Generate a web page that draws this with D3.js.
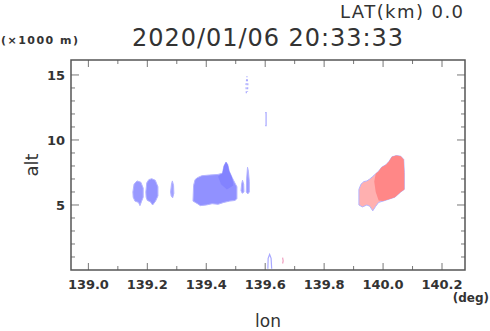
<!DOCTYPE html>
<html>
<head>
<meta charset="utf-8">
<script src="https://cdn.jsdelivr.net/npm/d3@7"></script>
<style>
  body { margin: 0; background: #fff; }
  svg text { font-family: "DejaVu Sans", sans-serif; fill: #333; }
</style>
</head>
<body>
<svg id="chart"></svg>
<script>
// axis settings
const lonDomain = [138.941, 140.278],
      altDomain = [0, 16.15]
const lonTicks = [139.0, 139.2, 139.4, 139.6, 139.8, 140.0, 140.2]
const lonMinor = d3.range(139.0, 140.25, 0.1)
const altTicks = [5, 10, 15]
const altMinor = d3.range(1, 16, 1)

// echo outlines [lon, alt(km)]
const blueCell1 = [[139.151,6.0],[139.155,6.6],[139.165,6.85],[139.178,6.75],[139.186,6.3],[139.186,5.6],[139.18,5.25],[139.175,4.95],[139.17,5.2],[139.158,5.3],[139.152,5.6]]
const blueCell2 = [[139.195,6.0],[139.198,6.7],[139.205,6.95],[139.215,7.02],[139.227,6.9],[139.236,6.4],[139.236,5.7],[139.228,5.3],[139.218,5.0],[139.21,5.25],[139.2,5.35],[139.196,5.6]]
const blueCell3 = [[139.279,6.0],[139.282,6.6],[139.285,6.85],[139.289,6.5],[139.29,5.9],[139.286,5.55],[139.281,5.7]]
const blueCell4 = [[139.355,5.3],[139.357,6.5],[139.362,6.95],[139.37,7.1],[139.385,7.25],[139.41,7.3],[139.44,7.35],[139.455,7.45],[139.46,8.0],[139.467,8.3],[139.473,8.1],[139.478,7.6],[139.488,7.1],[139.497,6.7],[139.504,6.4],[139.504,5.5],[139.498,5.35],[139.48,5.3],[139.46,5.2],[139.44,5.05],[139.42,5.1],[139.40,5.0],[139.38,4.95],[139.37,5.1]]
const blueCore4 = [[139.44,7.2],[139.455,7.45],[139.46,8.0],[139.467,8.3],[139.473,8.1],[139.478,7.6],[139.488,7.1],[139.492,6.5],[139.47,6.2],[139.45,6.6]]
const blueSpike1 = [[139.518,6.1],[139.52,6.6],[139.523,6.9],[139.527,6.6],[139.528,6.0],[139.522,5.9]]
const blueSpike2 = [[139.536,6.0],[139.537,7.0],[139.540,7.9],[139.543,7.6],[139.546,6.8],[139.546,6.0],[139.541,5.85]]
const redCell = [[139.918,5.0],[139.918,6.2],[139.925,6.6],[139.935,6.8],[139.945,6.85],[139.955,7.0],[139.965,7.2],[139.975,7.4],[139.985,7.6],[139.995,7.9],[140.01,8.1],[140.02,8.35],[140.03,8.7],[140.045,8.8],[140.06,8.75],[140.07,8.5],[140.072,7.5],[140.072,6.2],[140.06,6.0],[140.04,5.6],[140.02,5.45],[140.0,5.3],[139.985,5.2],[139.975,4.9],[139.965,4.55],[139.955,4.9],[139.945,5.0],[139.93,4.85]]
const redCore = [[139.975,7.4],[139.985,7.6],[139.995,7.9],[140.01,8.1],[140.02,8.35],[140.03,8.7],[140.045,8.8],[140.06,8.75],[140.07,8.5],[140.072,7.5],[140.072,6.2],[140.06,6.0],[140.04,5.6],[140.02,5.45],[140.0,5.3],[139.985,5.35],[139.975,6.0],[139.97,6.8]]

// faint scraps
const scrapTop = [[139.536,13.6],[139.535,14.2],[139.538,14.9],[139.541,14.3],[139.540,13.7]]
const scrapMid = [[139.600,12.1],[139.603,12.1],[139.603,11.1],[139.600,11.1]]
const scrapLow = [[139.609,0.1],[139.610,0.9],[139.615,1.2],[139.620,0.9],[139.622,0.1]]
const scrapDot = [[139.659,0.5],[139.661,0.7],[139.659,0.95]]

const cells = [
  {pts: blueCell1, fill: "#9999ff", edge: true},
  {pts: blueCell2, fill: "#9393ff", edge: true},
  {pts: blueCell3, fill: "#a0a0ff", edge: true},
  {pts: blueCell4, fill: "#9191ff", edge: true},
  {pts: blueCore4, fill: "#8383ff", edge: false},
  {pts: blueSpike1, fill: "#9797ff", edge: true},
  {pts: blueSpike2, fill: "#9797ff", edge: true},
  {pts: redCell, fill: "#ffb0b0", edge: true},
  {pts: redCore, fill: "#ff8787", edge: false}
]
const scraps = [scrapTop, scrapMid, scrapLow, scrapDot]

const width = 490, height = 331
const margin = {top: 60, right: 25, bottom: 61, left: 71}

const svg = d3.select("#chart").attr("width", width).attr("height", height)

const x = d3.scaleLinear().domain(lonDomain).range([margin.left, width - margin.right])
const y = d3.scaleLinear().domain(altDomain).range([height - margin.bottom, margin.top])

const line = d3.line().x(d => x(d[0])).y(d => y(d[1])).curve(d3.curveLinearClosed)
const open = d3.line().x(d => x(d[0])).y(d => y(d[1]))

svg.append("g").selectAll("path")
   .data(cells)
   .join("path")
   .attr("d", d => line(d.pts))
   .attr("fill", d => d.fill)
   .attr("stroke", d => d.edge ? "#b4b4ff" : "none")
   .attr("stroke-width", 1)

svg.append("g").selectAll("path")
   .data(scraps)
   .join("path")
   .attr("d", d => open(d))
   .attr("fill", "none")
   .attr("stroke", (d, i) => i == 3 ? "#f0a0c0" : "#a8a8ff")
   .attr("stroke-width", 1.2)
   .attr("stroke-dasharray", (d, i) => i == 0 ? "2,2" : null)

// ticks inside frame, all four sides
const tickCol = "#777"
const frame = svg.append("g")
const x0 = x.range()[0], x1 = x.range()[1], y0 = y.range()[0], y1 = y.range()[1]

frame.selectAll(".xt")
   .data(lonMinor.map(v => ({v: v, major: lonTicks.some(t => Math.abs(t - v) < 1e-6)})))
   .join(enter => {
     const g = enter.append("g")
     g.append("line").attr("x1", d => x(d.v)).attr("x2", d => x(d.v))
      .attr("y1", y0).attr("y2", d => y0 - (d.major ? 7 : 4))
     g.append("line").attr("x1", d => x(d.v)).attr("x2", d => x(d.v))
      .attr("y1", y1).attr("y2", d => y1 + (d.major ? 7 : 4))
     return g
   })
   .attr("stroke", tickCol)

frame.selectAll(".yt")
   .data(altMinor.map(v => ({v: v, major: altTicks.includes(v)})))
   .join(enter => {
     const g = enter.append("g")
     g.append("line").attr("y1", d => y(d.v)).attr("y2", d => y(d.v))
      .attr("x1", x0).attr("x2", d => x0 + (d.major ? 8 : 4))
     g.append("line").attr("y1", d => y(d.v)).attr("y2", d => y(d.v))
      .attr("x1", x1).attr("x2", d => x1 - (d.major ? 8 : 4))
     return g
   })
   .attr("stroke", tickCol)

frame.append("rect")
   .attr("x", x0).attr("y", y1)
   .attr("width", x1 - x0).attr("height", y0 - y1)
   .attr("fill", "none")
   .attr("stroke", "#555")
   .attr("stroke-width", 1.5)

// tick labels
svg.append("g").selectAll("text")
   .data(lonTicks)
   .join("text")
   .attr("x", d => x(d))
   .attr("y", 289)
   .attr("text-anchor", "middle")
   .style("font-size", "13px")
   .style("font-weight", "bold")
   .attr("textLength", 41)
   .text(d => d.toFixed(1))

svg.append("g").selectAll("text")
   .data(altTicks)
   .join("text")
   .attr("x", 65)
   .attr("y", d => y(d) + 5)
   .attr("text-anchor", "end")
   .style("font-size", "13px")
   .style("font-weight", "bold")
   .text(d => d)

// titles
svg.append("text")
   .attr("x", 132).attr("y", 46)
   .attr("textLength", 271)
   .style("font-size", "24px")
   .text("2020/01/06 20:33:33")

svg.append("text")
   .attr("x", 340).attr("y", 18)
   .attr("textLength", 123)
   .style("font-size", "18px")
   .text("LAT(km) 0.0")

svg.append("text")
   .attr("x", 1).attr("y", 44)
   .attr("textLength", 77)
   .style("font-size", "11px")
   .style("font-weight", "bold")
   .text("(×1000 m)")

svg.append("text")
   .attr("transform", "translate(38,165) rotate(-90)")
   .attr("text-anchor", "middle")
   .style("font-size", "18px")
   .text("alt")

svg.append("text")
   .attr("x", 268).attr("y", 327)
   .attr("text-anchor", "middle")
   .style("font-size", "17px")
   .text("lon")

svg.append("text")
   .attr("x", 489).attr("y", 302)
   .attr("text-anchor", "end")
   .style("font-size", "12px")
   .style("font-weight", "bold")
   .text("(deg)")
</script>
</body>
</html>
